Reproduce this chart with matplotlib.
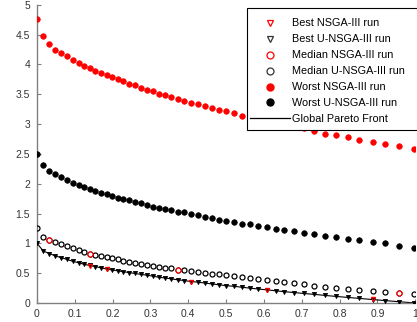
import matplotlib
matplotlib.use("Agg")
import matplotlib.pyplot as plt
from matplotlib.lines import Line2D
from matplotlib.patches import Rectangle

# ---- data ----
x_grid = [0, 0.017, 0.033, 0.048, 0.064, 0.08, 0.094, 0.11, 0.124, 0.139,
          0.154, 0.169, 0.184, 0.198, 0.214, 0.228, 0.244, 0.259, 0.275, 0.292,
          0.307, 0.323, 0.339, 0.354, 0.372, 0.39, 0.408, 0.425, 0.443, 0.462,
          0.482, 0.501, 0.521, 0.541, 0.562, 0.584, 0.608, 0.631, 0.654, 0.68,
          0.705, 0.733, 0.762, 0.791, 0.821, 0.852, 0.888, 0.921, 0.958, 0.997]

worst_nsga3 = [4.76, 4.47, 4.35, 4.25, 4.20, 4.14, 4.08, 4.02, 3.98, 3.94,
               3.89, 3.86, 3.82, 3.79, 3.75, 3.72, 3.68, 3.65, 3.61, 3.58,
               3.55, 3.51, 3.48, 3.45, 3.42, 3.39, 3.36, 3.33, 3.31, 3.27,
               3.24, 3.22, 3.19, 3.14, 3.12, 3.09, 3.05, 3.02, 2.99, 2.96,
               2.94, 2.88, 2.83, 2.82, 2.78, 2.74, 2.70, 2.66, 2.63, 2.58]

worst_unsga3 = [2.50, 2.31, 2.21, 2.16, 2.11, 2.06, 2.02, 1.98, 1.94, 1.91,
                1.88, 1.85, 1.83, 1.79, 1.76, 1.74, 1.72, 1.69, 1.68, 1.64,
                1.61, 1.60, 1.58, 1.56, 1.53, 1.52, 1.49, 1.48, 1.45, 1.43,
                1.39, 1.38, 1.36, 1.33, 1.32, 1.29, 1.27, 1.24, 1.23, 1.20,
                1.18, 1.15, 1.13, 1.10, 1.07, 1.05, 1.03, 1.00, 0.96, 0.92]

median_unsga3 = [1.255, 1.10, 1.05, 1.02, 0.985, 0.95, 0.92, 0.89, 0.86, 0.83,
                 0.81, 0.79, 0.77, 0.75, 0.73, 0.71, 0.69, 0.67, 0.655, 0.64,
                 0.62, 0.61, 0.595, 0.58, 0.56, 0.55, 0.535, 0.52, 0.51, 0.49,
                 0.48, 0.465, 0.45, 0.437, 0.425, 0.40, 0.387, 0.37, 0.353, 0.33,
                 0.314, 0.286, 0.274, 0.257, 0.23, 0.213, 0.197, 0.185, 0.163, 0.146]

best_unsga3 = [1.0, 0.87, 0.83, 0.79, 0.76, 0.73, 0.70, 0.675, 0.65, 0.63,
               0.61, 0.59, 0.57, 0.555, 0.54, 0.525, 0.51, 0.495, 0.48, 0.465,
               0.45, 0.43, 0.42, 0.405, 0.39, 0.375, 0.36, 0.35, 0.335, 0.32,
               0.305, 0.29, 0.28, 0.265, 0.25, 0.235, 0.22, 0.205, 0.19, 0.175,
               0.16, 0.145, 0.127, 0.11, 0.094, 0.077, 0.058, 0.04, 0.021, 0.002]

median_nsga3_x = [0.033, 0.139, 0.372, 0.958]
median_nsga3 = [1.05, 0.83, 0.56, 0.163]

best_nsga3_x = [0.139, 0.184, 0.408, 0.608, 0.888]
best_nsga3 = [0.625, 0.565, 0.355, 0.225, 0.06]

front_x = x_grid
front_y = best_unsga3

legend_labels = ["Best NSGA-III run", "Best U-NSGA-III run", "Median NSGA-III run",
                 "Median U-NSGA-III run", "Worst NSGA-III run", "Worst U-NSGA-III run",
                 "Global Pareto Front"]

x_ticks = [0, 0.1, 0.2, 0.3, 0.4, 0.5, 0.6, 0.7, 0.8, 0.9, 1]
x_ticklabels = ["0", "0.1", "0.2", "0.3", "0.4", "0.5", "0.6", "0.7", "0.8", "0.9", "1"]
y_ticks = [0, 0.5, 1, 1.5, 2, 2.5, 3, 3.5, 4, 4.5, 5]
y_ticklabels = ["0", "0.5", "1", "1.5", "2", "2.5", "3", "3.5", "4", "4.5", "5"]

# ---- figure ----
plt.rcParams['font.family'] = ['Liberation Sans', 'DejaVu Sans']
W, H = 417, 322
fig = plt.figure(figsize=(W / 100, H / 100), dpi=100)
ax = fig.add_axes([0.0887, 0.059, 0.907, 0.926])

RED = '#ff0000'
ax.plot(front_x, front_y, color='black', lw=0.8, zorder=2)
ax.plot(x_grid, best_unsga3, linestyle='none', marker='v', ms=3,
        mfc='black', mec='black', mew=0.6, zorder=4)
ax.plot(best_nsga3_x, best_nsga3, linestyle='none', marker='v', ms=3,
        mfc='none', mec=RED, mew=0.9, zorder=5)
ax.plot(x_grid, median_unsga3, linestyle='none', marker='o', ms=3.6,
        mfc='none', mec='black', mew=0.9, zorder=4)
ax.plot(median_nsga3_x, median_nsga3, linestyle='none', marker='o', ms=3.6,
        mfc='white', mec=RED, mew=0.9, zorder=5)
ax.plot(x_grid, worst_nsga3, linestyle='none', marker='o', ms=4,
        mfc=RED, mec=RED, mew=0.5, zorder=3)
ax.plot(x_grid, worst_unsga3, linestyle='none', marker='o', ms=4,
        mfc='black', mec='black', mew=0.5, zorder=3)

ax.set_xlim(0, 1)
ax.set_ylim(0, 5)
ax.set_xticks(x_ticks)
ax.set_xticklabels(x_ticklabels)
ax.set_yticks(y_ticks)
ax.set_yticklabels(y_ticklabels)
for s in ['top', 'right']:
    ax.spines[s].set_visible(False)
for s in ['left', 'bottom']:
    ax.spines[s].set_color('#808080')
    ax.spines[s].set_linewidth(1.0)
ax.tick_params(direction='in', length=3, color='#808080', labelsize=7.5,
               labelcolor='#333333')
ax.tick_params(axis='y', pad=5)
ax.tick_params(axis='x', pad=4)

# legend box (frame drawn as a separate patch, MATLAB-like paddings)
frame = Rectangle((247 / W, 1 - 130 / H), (419 - 247) / W, (130 - 8) / H,
                  transform=fig.transFigure, facecolor='white', edgecolor='black',
                  lw=0.8, zorder=9, clip_on=False)
ax.add_artist(frame)

handles = [
    Line2D([], [], ls='none', marker='v', ms=5, mfc='none', mec=RED, mew=0.9),
    Line2D([], [], ls='none', marker='v', ms=5, mfc='none', mec='#333333', mew=0.9),
    Line2D([], [], ls='none', marker='o', ms=5, mfc='none', mec=RED, mew=0.9),
    Line2D([], [], ls='none', marker='o', ms=5, mfc='none', mec='#333333', mew=0.9),
    Line2D([], [], ls='none', marker='o', ms=5, mfc=RED, mec=RED),
    Line2D([], [], ls='none', marker='o', ms=5, mfc='black', mec='black'),
    Line2D([], [], color='black', lw=0.9),
]
leg = ax.legend(handles, legend_labels, loc='upper left',
                bbox_to_anchor=(250 / W, 1 - 18.5 / H), bbox_transform=fig.transFigure,
                fontsize=7.8, frameon=False,
                borderpad=0, labelspacing=0.55, handlelength=3.7,
                handletextpad=0.15, borderaxespad=0)
leg.set_zorder(10)

fig.savefig('out.png', dpi=100)
